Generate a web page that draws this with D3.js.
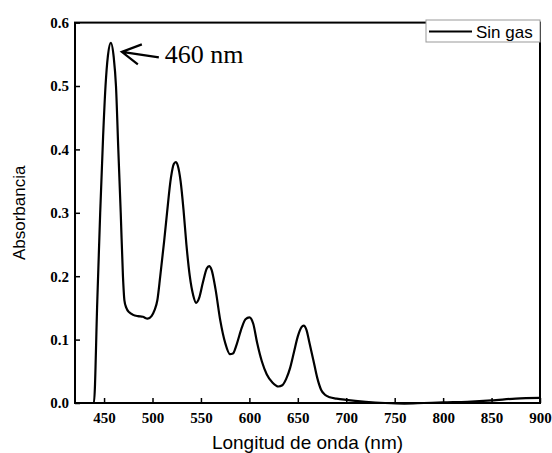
<!DOCTYPE html>
<html>
<head>
<meta charset="utf-8">
<script src="https://cdn.jsdelivr.net/npm/d3@7"></script>
<style>
  body { margin: 0; background: #fff; }
</style>
</head>
<body>
<svg id="chart"></svg>
<script>
// wavelength (nm) and absorbance
const wavelengths = [420, 434, 439.5, 443, 446, 449, 451.5, 454, 457, 460, 462.3, 464.7, 467.2, 469.5, 471, 473, 476, 480, 485, 490, 495,
  499, 502, 505, 508, 512, 515, 519, 522, 524, 526, 529, 532, 535, 538.5, 542, 545, 548, 552, 556, 558.5,
  561, 565, 570, 575, 580, 583, 587, 592, 596, 600, 604, 608, 613, 618, 624, 630, 634, 638, 642, 646,
  650, 654, 656, 659, 662, 666, 670, 674, 678, 683, 690, 700, 720, 740, 760, 780, 800, 825, 850, 875, 900];
const absorbance = [0, 0, 0, 0.16, 0.30, 0.42, 0.5, 0.548, 0.568, 0.545, 0.5, 0.4, 0.3, 0.2, 0.162, 0.15, 0.143, 0.139, 0.137, 0.136, 0.133,
  0.137, 0.146, 0.162, 0.2, 0.255, 0.3, 0.355, 0.377, 0.380, 0.375, 0.35, 0.305, 0.25, 0.2, 0.17, 0.158, 0.165, 0.19, 0.212, 0.216,
  0.21, 0.18, 0.13, 0.095, 0.077, 0.078, 0.093, 0.118, 0.132, 0.135, 0.125, 0.095, 0.065, 0.045, 0.032, 0.026, 0.028, 0.038, 0.055, 0.08,
  0.105, 0.12, 0.122, 0.115, 0.095, 0.068, 0.04, 0.021, 0.013, 0.009, 0.007, 0.005, 0.002, 0.0, -0.001, 0.0, 0.001, 0.002, 0.004, 0.007, 0.008];
const xTicks = [450, 500, 550, 600, 650, 700, 750, 800, 850, 900];
const yTicks = [0, 0.1, 0.2, 0.3, 0.4, 0.5, 0.6];
const seriesName = "Sin gas";
const peakLabel = "460 nm";
const peakWl = 457, peakAbs = 0.568;

const data = wavelengths.map((w, i) => ({ w: w, a: absorbance[i] }));

const W = 552, H = 453;
const margin = { top: 22.6, right: 12, bottom: 50, left: 75 },
  width = W - margin.left - margin.right,
  height = H - margin.top - margin.bottom;

const serif = "'Times New Roman', 'Liberation Serif', serif";
const sans = "Arial, 'Liberation Sans', sans-serif";

const svg = d3.select("#chart")
  .attr("width", W)
  .attr("height", H)
  .append("g")
  .attr("transform", `translate(${margin.left},${margin.top})`);

const x = d3.scaleLinear().domain([420, 900]).range([0, width]);
const y = d3.scaleLinear().domain([0, 0.6]).range([height, 0]);

// x axis, ticks pointing inward
const xAxis = svg.append("g")
  .attr("transform", `translate(0,${height})`)
  .call(d3.axisBottom(x).tickValues(xTicks).tickSizeInner(-5).tickSizeOuter(0).tickPadding(9));
xAxis.select(".domain").remove();
xAxis.selectAll("line").attr("stroke-width", 1.5);
xAxis.selectAll("text")
  .style("font-family", serif)
  .style("font-weight", "bold")
  .style("font-size", "15px")
  .attr("fill", "#000");

// y axis
const yAxis = svg.append("g")
  .call(d3.axisLeft(y).tickValues(yTicks).tickFormat(d3.format(".1f")).tickSizeInner(-5).tickSizeOuter(0).tickPadding(6));
yAxis.select(".domain").remove();
yAxis.selectAll("line").attr("stroke-width", 1.5);
yAxis.selectAll("text")
  .style("font-family", serif)
  .style("font-weight", "bold")
  .style("font-size", "15px")
  .attr("fill", "#000");

// spectrum
const line = d3.line()
  .x(d => x(d.w))
  .y(d => y(d.a))
  .curve(d3.curveMonotoneX);

svg.append("path")
  .datum(data)
  .attr("fill", "none")
  .attr("stroke", "#000")
  .attr("stroke-width", 2.2)
  .attr("stroke-linejoin", "round")
  .attr("d", line);

// frame
svg.append("rect")
  .attr("width", width)
  .attr("height", height)
  .attr("fill", "none")
  .attr("stroke", "#000")
  .attr("stroke-width", 2);

// peak annotation
const tipX = x(peakWl) + 11, tipY = y(peakAbs) + 9;
svg.append("path")
  .attr("d", `M${tipX},${tipY} L${tipX + 37},${tipY + 5.5} M${tipX + 20},${tipY - 7.5} L${tipX},${tipY} L${tipX + 16},${tipY + 12.5}`)
  .attr("fill", "none")
  .attr("stroke", "#000")
  .attr("stroke-width", 2.2);

svg.append("text")
  .attr("x", tipX + 43)
  .attr("y", tipY + 11)
  .style("font-family", serif)
  .style("font-size", "26px")
  .text(peakLabel);

// legend
const legend = svg.append("g")
  .attr("transform", `translate(${width - 114},-2.6)`);
legend.append("rect")
  .attr("width", 114)
  .attr("height", 22)
  .attr("fill", "#fff")
  .attr("stroke", "#999")
  .attr("stroke-width", 1);
legend.append("line")
  .attr("x1", 3).attr("x2", 46)
  .attr("y1", 11.5).attr("y2", 11.5)
  .attr("stroke", "#000")
  .attr("stroke-width", 2);
legend.append("text")
  .attr("x", 50)
  .attr("y", 17.5)
  .style("font-family", sans)
  .style("font-size", "17px")
  .text(seriesName);

// axis titles
svg.append("text")
  .attr("x", width / 2)
  .attr("y", height + 46)
  .attr("text-anchor", "middle")
  .style("font-family", sans)
  .style("font-size", "19px")
  .text("Longitud de onda (nm)");

svg.append("text")
  .attr("transform", "rotate(-90)")
  .attr("x", -height / 2)
  .attr("y", -50)
  .attr("text-anchor", "middle")
  .style("font-family", sans)
  .style("font-size", "17px")
  .text("Absorbancia");
</script>
</body>
</html>
